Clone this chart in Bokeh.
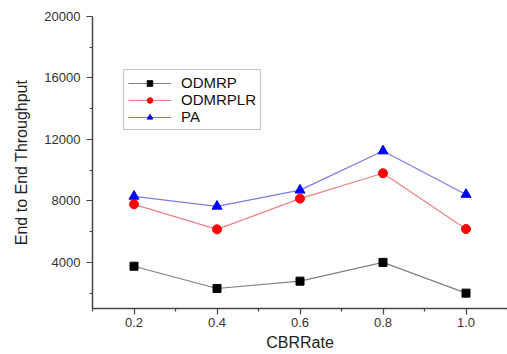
from bokeh.plotting import figure
from bokeh.models import FixedTicker, Range1d, Legend
from bokeh.embed import file_html
from bokeh.resources import INLINE

cbr_rate = [0.2, 0.4, 0.6, 0.8, 1.0]
odmrp = [3750, 2300, 2780, 4000, 2000]
odmrplr = [7780, 6150, 8150, 9800, 6170]
pa = [8300, 7650, 8700, 11250, 8420]

x_ticks = [0.2, 0.4, 0.6, 0.8, 1.0]
x_tick_labels = ["0.2", "0.4", "0.6", "0.8", "1.0"]
y_ticks = [4000, 8000, 12000, 16000, 20000]
y_tick_labels = ["4000", "8000", "12000", "16000", "20000"]

FONT = "Liberation Sans"

p = figure(width=507, height=354, output_backend="svg", toolbar_location=None,
           x_range=Range1d(0.1, 1.1), y_range=Range1d(1000, 20000),
           min_border_left=92, min_border_right=0, min_border_top=16, min_border_bottom=46)
p.outline_line_color = None
p.grid.visible = False
p.background_fill_color = "white"
p.border_fill_color = "white"

p.xaxis.ticker = FixedTicker(ticks=x_ticks, minor_ticks=[0.1, 0.3, 0.5, 0.7, 0.9, 1.1])
p.yaxis.ticker = FixedTicker(ticks=y_ticks, minor_ticks=[2000, 6000, 10000, 14000, 18000])
p.xaxis.major_label_overrides = {t: l for t, l in zip(x_ticks, x_tick_labels)}
p.yaxis.major_label_overrides = {t: l for t, l in zip(y_ticks, y_tick_labels)}

for ax in (p.xaxis, p.yaxis):
    ax.axis_line_color = "#444444"
    ax.axis_line_width = 1.5
    ax.major_tick_line_color = "#444444"
    ax.minor_tick_line_color = "#444444"
    ax.major_tick_line_width = 1.2
    ax.minor_tick_line_width = 1.2
    ax.major_tick_in = 0
    ax.major_tick_out = 6
    ax.minor_tick_in = 0
    ax.minor_tick_out = 3
    ax.major_label_text_font = FONT
    ax.major_label_text_font_size = "13px"
    ax.major_label_text_color = "#333333"
    ax.axis_label_text_font = FONT
    ax.axis_label_text_font_style = "normal"
    ax.axis_label_text_color = "#222222"

p.yaxis.major_label_standoff = 6
p.xaxis.major_label_standoff = 3
p.xaxis.axis_label = "CBRRate"
p.xaxis.axis_label_text_font_size = "16px"
p.xaxis.axis_label_standoff = 4
p.yaxis.axis_label = "End to End Throughput"
p.yaxis.axis_label_text_font_size = "16px"
p.yaxis.axis_label_standoff = 11

r1 = p.line(cbr_rate, odmrp, line_color="#808080", line_width=1.2)
m1 = p.scatter(cbr_rate, odmrp, marker="square", size=8, fill_color="black", line_color="black")
r2 = p.line(cbr_rate, odmrplr, line_color="#f08080", line_width=1.2)
m2 = p.scatter(cbr_rate, odmrplr, marker="circle", size=9, fill_color="red", line_color="red")
r3 = p.line(cbr_rate, pa, line_color="#7b7be8", line_width=1.2)
m3 = p.scatter(cbr_rate, pa, marker="triangle", size=10, fill_color="blue", line_color="blue")

legend = Legend(items=[("ODMRP", [r1, m1]), ("ODMRPLR", [r2, m2]), ("PA", [r3, m3])],
                location=(31, 178))
legend.label_text_font = FONT
legend.label_text_font_size = "15px"
legend.label_text_line_height = 0.8
legend.label_text_color = "#111111"
legend.glyph_width = 43
legend.glyph_height = 14
legend.label_height = 14
legend.label_standoff = 10
legend.spacing = 0
legend.padding = 4
legend.margin = 0
legend.border_line_color = "#888888"
legend.border_line_width = 1
legend.background_fill_alpha = 1
p.add_layout(legend, "center")

open("out.html", "w").write(file_html(p, INLINE))
